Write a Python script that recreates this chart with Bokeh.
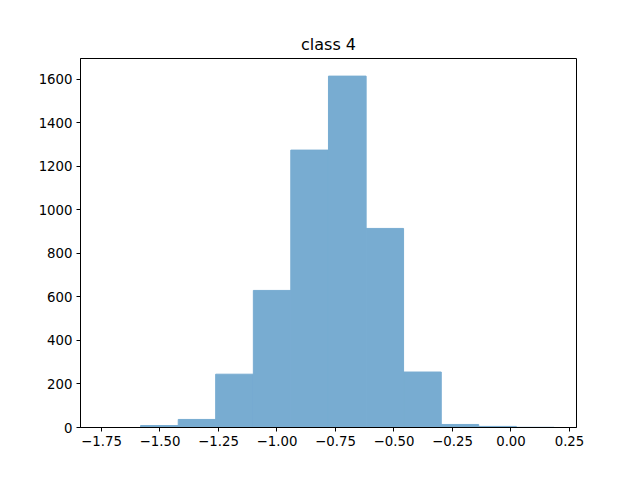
from bokeh.plotting import figure
from bokeh.models import Range1d, FixedTicker
from bokeh.embed import file_html
from bokeh.resources import INLINE

# data
bin_edges = [-1.743, -1.583, -1.422, -1.262, -1.101, -0.941, -0.780,
             -0.619, -0.459, -0.298, -0.138, 0.023, 0.184]
counts = [0, 9, 37, 245, 630, 1275, 1615, 915, 255, 14, 5, 1]
x_ticks = [-1.75, -1.5, -1.25, -1.0, -0.75, -0.5, -0.25, 0.0, 0.25]
x_tick_labels = ["\u22121.75", "\u22121.50", "\u22121.25", "\u22121.00", "\u22120.75",
                 "\u22120.50", "\u22120.25", "0.00", "0.25"]
y_ticks = [0, 200, 400, 600, 800, 1000, 1200, 1400, 1600]
title_text = "class 4"

p = figure(output_backend="svg", toolbar_location=None,
           frame_width=496, frame_height=369,
           min_border_left=80, min_border_right=56,
           min_border_top=58, min_border_bottom=45,
           x_range=Range1d(-1.8397, 0.2800), y_range=Range1d(0, 1696),
           title=title_text)

bar_color = "#78acd1"
p.quad(left=bin_edges[:-1], right=bin_edges[1:], bottom=0, top=counts,
       fill_color=bar_color, fill_alpha=1.0, line_color=bar_color, line_width=1)

p.title.align = "center"
p.title.text_font = "DejaVu Sans"
p.title.text_font_size = "16px"
p.title.text_font_style = "normal"
p.title.text_color = "black"
p.title.standoff = 9

p.xgrid.visible = False
p.ygrid.visible = False
p.outline_line_color = "black"
p.outline_line_width = 1
p.background_fill_color = "white"
p.border_fill_color = "white"

p.xaxis.ticker = FixedTicker(ticks=x_ticks)
p.xaxis.major_label_overrides = {t: l for t, l in zip(x_ticks, x_tick_labels)}
p.yaxis.ticker = FixedTicker(ticks=y_ticks)

for ax in (p.xaxis[0], p.yaxis[0]):
    ax.axis_line_color = "black"
    ax.major_tick_line_color = "black"
    ax.major_tick_in = 0
    ax.major_tick_out = 4
    ax.minor_tick_line_color = None
    ax.major_label_text_font = "DejaVu Sans"
    ax.major_label_text_font_size = "13.3px"
    ax.major_label_text_color = "black"
    ax.major_label_standoff = 4

open("out.html", "w").write(file_html(p, INLINE))
